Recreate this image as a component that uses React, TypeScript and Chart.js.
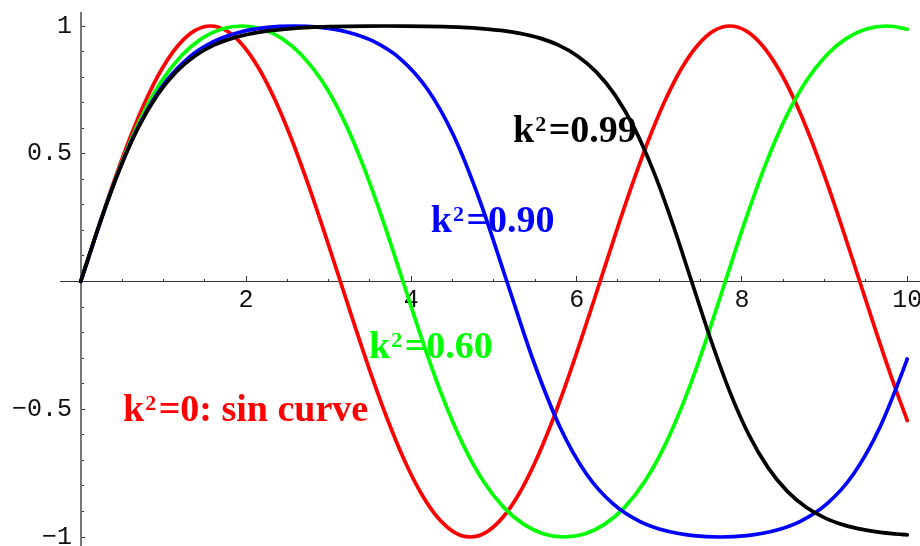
import React, { useEffect, useRef } from 'react';
import { Chart, registerables } from 'chart.js';

Chart.register(...registerables);

// Jacobi sn(u | k^2) sampled along u, one x/y pair of arrays per modulus.
const SIN_X = [0, 0.1963, 0.3927, 0.589, 0.7854, 0.9817, 1.1781, 1.3744, 1.5708, 1.7671, 1.9635, 2.1598, 2.3562, 2.5525, 2.7489, 2.9452, 3.1416, 3.3379, 3.5343, 3.7306, 3.927, 4.1233, 4.3197, 4.516, 4.7124, 4.9087, 5.1051, 5.3014, 5.4978, 5.6941, 5.8905, 6.0868, 6.2832, 6.4795, 6.6759, 6.8722, 7.0686, 7.2649, 7.4613, 7.6576, 7.854, 8.0503, 8.2467, 8.443, 8.6394, 8.8357, 9.0321, 9.2284, 9.4248, 9.6211, 9.8175, 10];
const SIN_Y = [0, 0.1951, 0.3827, 0.5556, 0.7071, 0.8315, 0.9239, 0.9808, 1, 0.9808, 0.9239, 0.8315, 0.7071, 0.5556, 0.3827, 0.1951, 0, -0.1951, -0.3827, -0.5556, -0.7071, -0.8315, -0.9239, -0.9808, -1, -0.9808, -0.9239, -0.8315, -0.7071, -0.5556, -0.3827, -0.1951, 0, 0.1951, 0.3827, 0.5556, 0.7071, 0.8315, 0.9239, 0.9808, 1, 0.9808, 0.9239, 0.8315, 0.7071, 0.5556, 0.3827, 0.1951, 0, -0.1951, -0.3827, -0.544];

const K60_X = [0, 0.2437, 0.4874, 0.7311, 0.9748, 1.2185, 1.4622, 1.7059, 1.9496, 2.1933, 2.437, 2.6807, 2.9244, 3.168, 3.4117, 3.6554, 3.8991, 4.1428, 4.3865, 4.6302, 4.8739, 5.1176, 5.3613, 5.605, 5.8487, 6.0924, 6.3361, 6.5798, 6.8235, 7.0672, 7.3109, 7.5546, 7.7983, 8.042, 8.2857, 8.5294, 8.7731, 9.0168, 9.2604, 9.5041, 9.7478, 9.9915, 10];
const K60_Y = [0, 0.2399, 0.4586, 0.6414, 0.7827, 0.884, 0.9507, 0.988, 1, 0.988, 0.9507, 0.884, 0.7827, 0.6414, 0.4586, 0.2399, 0, -0.2399, -0.4586, -0.6414, -0.7827, -0.884, -0.9507, -0.988, -1, -0.988, -0.9507, -0.884, -0.7827, -0.6414, -0.4586, -0.2399, 0, 0.2399, 0.4586, 0.6414, 0.7827, 0.884, 0.9507, 0.988, 1, 0.988, 0.9873];

const K90_X = [0, 0.3223, 0.6445, 0.9668, 1.289, 1.6113, 1.9336, 2.2558, 2.5781, 2.9004, 3.2226, 3.5449, 3.8671, 4.1894, 4.5117, 4.8339, 5.1562, 5.4784, 5.8007, 6.123, 6.4452, 6.7675, 7.0898, 7.412, 7.7343, 8.0565, 8.3788, 8.7011, 9.0233, 9.3456, 9.6678, 9.9901, 10];
const K90_Y = [0, 0.3121, 0.5713, 0.7553, 0.8716, 0.9396, 0.9767, 0.9947, 1, 0.9947, 0.9767, 0.9396, 0.8716, 0.7553, 0.5713, 0.3121, 0, -0.3121, -0.5713, -0.7553, -0.8716, -0.9396, -0.9767, -0.9947, -1, -0.9947, -0.9767, -0.9396, -0.8716, -0.7553, -0.5713, -0.3121, -0.303];

const K99_X = [0, 0.231, 0.462, 0.6929, 0.9239, 1.1549, 1.3859, 1.6168, 1.8478, 2.0788, 2.3098, 2.5408, 2.7717, 3.0027, 3.2337, 3.4647, 3.6956, 3.9266, 4.1576, 4.3886, 4.6195, 4.8505, 5.0815, 5.3125, 5.5435, 5.7744, 6.0054, 6.2364, 6.4674, 6.6983, 6.9293, 7.1603, 7.3913, 7.6223, 7.8532, 8.0842, 8.3152, 8.5462, 8.7771, 9.0081, 9.2391, 9.4701, 9.701, 9.932, 10];
const K99_Y = [0, 0.227, 0.4318, 0.6003, 0.7285, 0.8205, 0.8837, 0.9259, 0.9535, 0.9713, 0.9827, 0.9899, 0.9945, 0.9972, 0.9989, 0.9997, 1, 0.9997, 0.9989, 0.9972, 0.9945, 0.9899, 0.9827, 0.9713, 0.9535, 0.9259, 0.8837, 0.8205, 0.7285, 0.6003, 0.4318, 0.227, 0, -0.227, -0.4318, -0.6003, -0.7285, -0.8205, -0.8837, -0.9259, -0.9535, -0.9713, -0.9827, -0.9899, -0.9915];

// Axis ticks
const X_MAJOR_TICKS = [2, 4, 6, 8, 10];
const X_MINOR_TICKS = [0.5, 1, 1.5, 2.5, 3, 3.5, 4.5, 5, 5.5, 6.5, 7, 7.5, 8.5, 9, 9.5];
const Y_MAJOR_TICKS = [-1, -0.5, 0.5, 1];
const Y_MINOR_TICKS = [-0.9, -0.8, -0.7, -0.6, -0.4, -0.3, -0.2, -0.1, 0.1, 0.2, 0.3, 0.4, 0.6, 0.7, 0.8, 0.9];

// Curve captions: modulus text after "k²", anchored at a data position
const CAPTION_TEXT = ['=0.99', '=0.90', '=0.60', '=0: sin curve'];
const CAPTION_X = [5.23, 4.236, 3.488, 0.512];
const CAPTION_Y = [0.546, 0.194, -0.299, -0.546];
const CAPTION_COLOR = ['#000000', '#0000ff', '#00ff00', '#ff0000'];

const AXIS_DARK = '#333333';
const AXIS_Y = '#777777';
const TICK_FONT = { family: '"Liberation Mono", "Courier New", monospace', size: 25 };
const CAPTION_FONT = '"Liberation Serif", "Times New Roman", serif';

const X_MIN = -0.2504;
const X_MAX = 10.154;
const Y_MIN = -1.0352;
const Y_MAX = 1.0509;

const toPoints = (xs: number[], ys: number[]) => xs.map((x, i) => ({ x, y: ys[i] }));

const noPadding = (scale: any) => {
  scale.paddingLeft = 0;
  scale.paddingRight = 0;
  scale.paddingTop = 0;
  scale.paddingBottom = 0;
};

const formatTick = (v: number | string) => {
  const n = Number(v);
  return n < 0 ? '\u2212' + String(-n) : String(n);
};

const captionsPlugin = {
  id: 'curveCaptions',
  afterDatasetsDraw(chart: any) {
    const { ctx, scales } = chart;
    ctx.save();
    ctx.textAlign = 'left';
    ctx.textBaseline = 'alphabetic';
    CAPTION_TEXT.forEach((text, i) => {
      const px = scales.x.getPixelForValue(CAPTION_X[i]);
      const py = scales.y.getPixelForValue(CAPTION_Y[i]);
      ctx.fillStyle = CAPTION_COLOR[i];
      ctx.font = `bold 38px ${CAPTION_FONT}`;
      ctx.fillText('k', px, py);
      let dx = ctx.measureText('k').width + 1;
      ctx.font = `bold 22px ${CAPTION_FONT}`;
      ctx.fillText('2', px + dx, py - 11);
      dx += ctx.measureText('2').width + 2.5;
      ctx.font = `bold 38px ${CAPTION_FONT}`;
      ctx.fillText(text, px + dx, py);
    });
    ctx.restore();
  },
};

export default function App() {
  const canvasRef = useRef<HTMLCanvasElement | null>(null);

  useEffect(() => {
    const canvas = canvasRef.current;
    if (!canvas) return;

    const line = (xs: number[], ys: number[], color: string) => ({
      data: toPoints(xs, ys),
      borderColor: color,
      backgroundColor: color,
      borderWidth: 3.7,
      borderCapStyle: 'round' as const,
      borderJoinStyle: 'round' as const,
      pointRadius: 0,
      cubicInterpolationMode: 'monotone' as const,
      fill: false,
      xAxisID: 'x',
      yAxisID: 'y',
    });

    const chart = new Chart(canvas, {
      type: 'line',
      data: {
        datasets: [
          line(K99_X, K99_Y, '#000000'),
          line(K90_X, K90_Y, '#0000ff'),
          line(K60_X, K60_Y, '#00ff00'),
          line(SIN_X, SIN_Y, '#ff0000'),
        ],
      },
      options: {
        animation: false,
        responsive: false,
        devicePixelRatio: 1,
        parsing: false,
        layout: { padding: { left: 60, top: 13, right: 0, bottom: 0 } },
        plugins: { legend: { display: false }, tooltip: { enabled: false } },
        scales: {
          x: {
            type: 'linear',
            min: X_MIN,
            max: X_MAX,
            position: { y: 0 },
            afterBuildTicks: (s: any) => { s.ticks = X_MAJOR_TICKS.map((value) => ({ value })); },
            afterFit: noPadding,
            border: { display: true, color: AXIS_DARK, width: 1 },
            grid: { display: true, drawOnChartArea: false, drawTicks: true, tickLength: -6, tickColor: AXIS_DARK, tickWidth: 1 },
            ticks: { padding: 10, font: TICK_FONT, color: '#111111', maxRotation: 0, autoSkip: false, callback: formatTick },
          },
          xMinor: {
            type: 'linear',
            min: X_MIN,
            max: X_MAX,
            position: { y: 0 },
            afterBuildTicks: (s: any) => { s.ticks = X_MINOR_TICKS.map((value) => ({ value })); },
            afterFit: noPadding,
            border: { display: false },
            grid: { display: true, drawOnChartArea: false, drawTicks: true, tickLength: -3, tickColor: AXIS_DARK, tickWidth: 1 },
            ticks: { autoSkip: false, callback: () => '' },
          },
          y: {
            type: 'linear',
            min: Y_MIN,
            max: Y_MAX,
            position: { x: 0 },
            afterBuildTicks: (s: any) => { s.ticks = Y_MAJOR_TICKS.map((value) => ({ value })); },
            afterFit: noPadding,
            border: { display: true, color: AXIS_Y, width: 2 },
            grid: { display: true, drawOnChartArea: false, drawTicks: true, tickLength: -5, tickColor: AXIS_DARK, tickWidth: 1 },
            ticks: { autoSkip: false, callback: () => '' },
          },
          yMinor: {
            type: 'linear',
            min: Y_MIN,
            max: Y_MAX,
            position: { x: 0 },
            afterBuildTicks: (s: any) => { s.ticks = Y_MINOR_TICKS.map((value) => ({ value })); },
            afterFit: noPadding,
            border: { display: false },
            grid: { display: true, drawOnChartArea: false, drawTicks: true, tickLength: -3, tickColor: AXIS_DARK, tickWidth: 1 },
            ticks: { autoSkip: false, callback: () => '' },
          },
          // Tick labels for the vertical axis, right-aligned just left of the origin line
          yLabels: {
            type: 'linear',
            min: Y_MIN,
            max: Y_MAX,
            position: 'left',
            afterBuildTicks: (s: any) => { s.ticks = Y_MAJOR_TICKS.map((value) => ({ value })); },
            afterFit: (s: any) => { noPadding(s); s.width = 0; },
            border: { display: false },
            grid: { display: false, drawTicks: false },
            ticks: { mirror: true, crossAlign: 'far', padding: -48, font: TICK_FONT, color: '#111111', autoSkip: false, callback: formatTick },
          },
        },
      } as any,
      plugins: [captionsPlugin],
    });

    return () => chart.destroy();
  }, []);

  return (
    <div style={{ position: 'absolute', left: 0, top: 0, width: 920, height: 546, background: '#ffffff' }}>
      <canvas ref={canvasRef} width={920} height={546} style={{ display: 'block', width: 920, height: 546 }} />
    </div>
  );
}
